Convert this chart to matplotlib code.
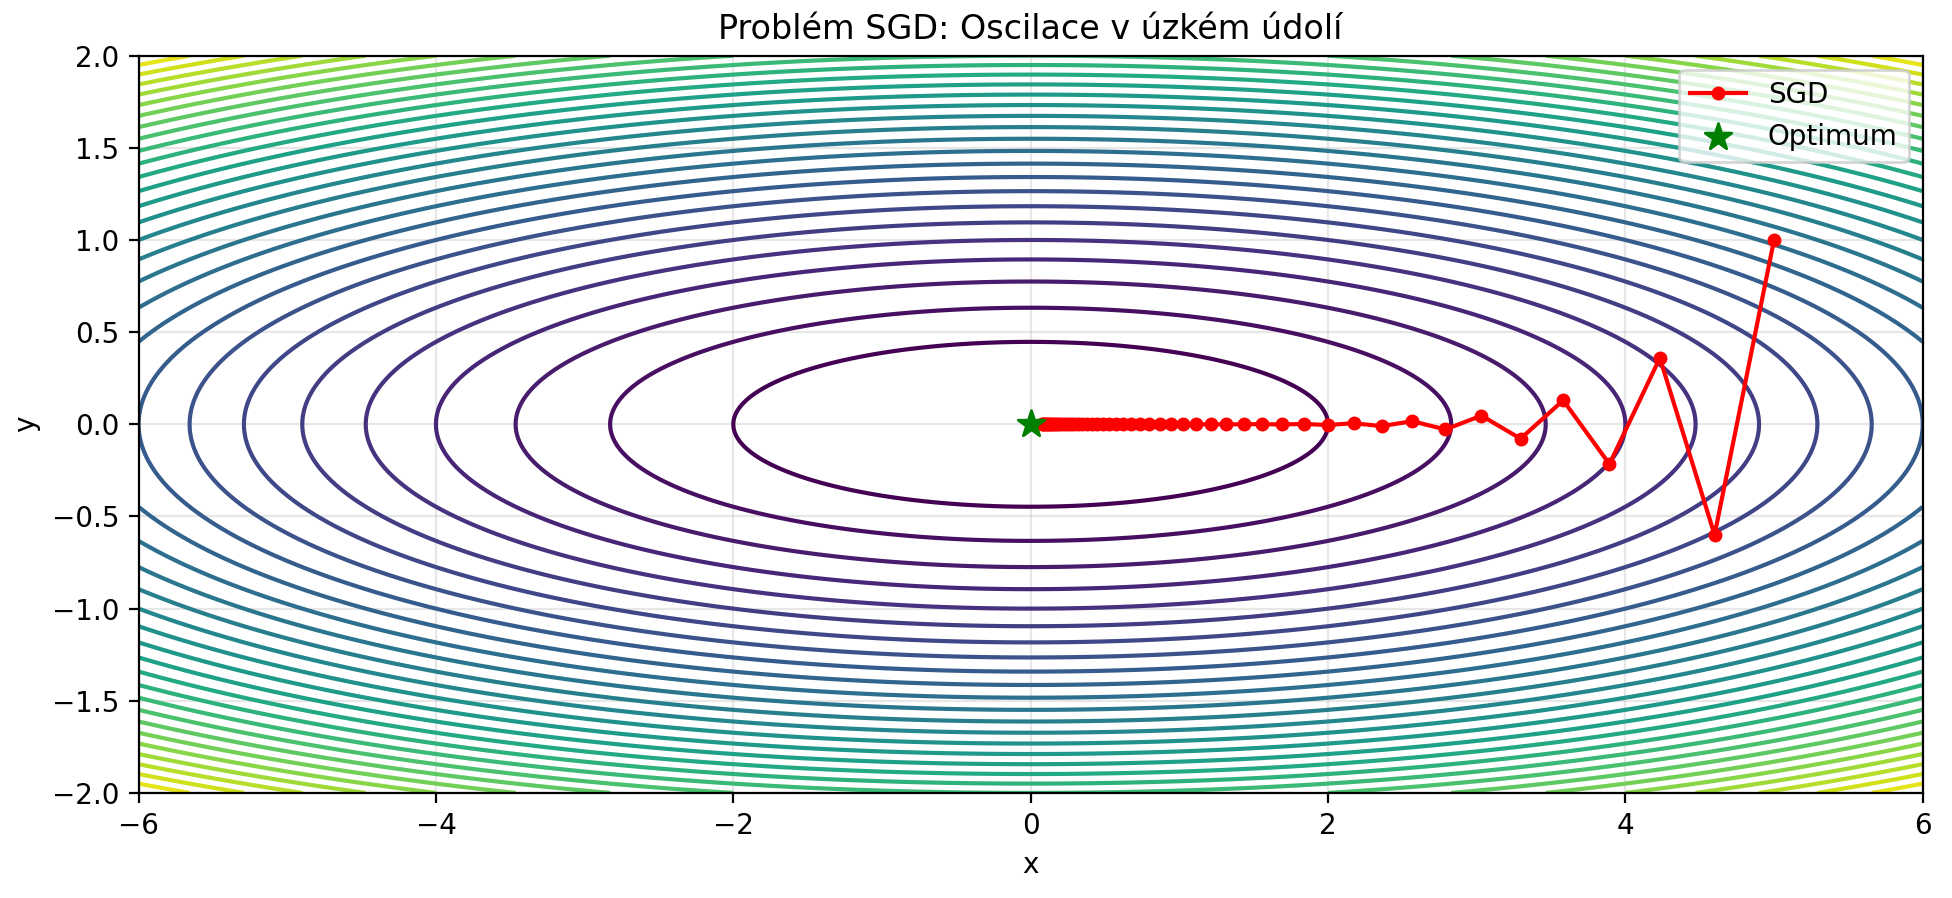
import numpy as np
import matplotlib.pyplot as plt

# Ill-conditioned quadratic valley: f(x, y) = a*x^2 + b*y^2
coef_x = 0.5
coef_y = 10.0
contour_levels = [2, 4, 6, 8, 10, 12, 14, 16, 18, 20, 22, 24, 26, 28, 30,
                  32, 34, 36, 38, 40, 42, 44, 46, 48, 50, 52, 54, 56, 58]

# SGD trajectory (start at (5, 1))
sgd_x = [5.0, 4.6, 4.232, 3.893, 3.582, 3.295, 3.032, 2.789, 2.566, 2.361,
         2.172, 1.998, 1.838, 1.691, 1.556, 1.432, 1.317, 1.212, 1.115, 1.026,
         0.944, 0.868, 0.799, 0.735, 0.676, 0.622, 0.572, 0.526, 0.484, 0.446,
         0.410, 0.377, 0.347, 0.319, 0.294, 0.270, 0.249, 0.229, 0.210, 0.194,
         0.178, 0.164, 0.151, 0.139, 0.128, 0.117, 0.108, 0.099, 0.091, 0.084,
         0.077]
sgd_y = [1.0, -0.6, 0.36, -0.216, 0.13, -0.078, 0.047, -0.028, 0.017, -0.010,
         0.006, -0.004, 0.002, -0.001, 0.001, 0.0, 0.0, 0.0, 0.0, 0.0,
         0.0, 0.0, 0.0, 0.0, 0.0, 0.0, 0.0, 0.0, 0.0, 0.0,
         0.0, 0.0, 0.0, 0.0, 0.0, 0.0, 0.0, 0.0, 0.0, 0.0,
         0.0, 0.0, 0.0, 0.0, 0.0, 0.0, 0.0, 0.0, 0.0, 0.0,
         0.0]
optimum = (0.0, 0.0)

x = np.linspace(-6, 6, 400)
y = np.linspace(-2, 2, 400)
X, Y = np.meshgrid(x, y)
Z = coef_x * X**2 + coef_y * Y**2

fig, ax = plt.subplots(figsize=(9.76, 4.49), dpi=200)
fig.subplots_adjust(left=0.071, right=0.985, top=0.938, bottom=0.117)

ax.contour(X, Y, Z, levels=contour_levels, cmap='viridis')
ax.plot(sgd_x, sgd_y, 'ro-', markersize=4, label='SGD')
ax.scatter(*optimum, color='green', marker='*', s=100, zorder=5, label='Optimum')

ax.set_title('Problém SGD: Oscilace v úzkém údolí')
ax.set_xlabel('x')
ax.set_ylabel('y')
ax.legend(loc='upper right')
ax.grid(True, alpha=0.3)

plt.savefig('out.png')
